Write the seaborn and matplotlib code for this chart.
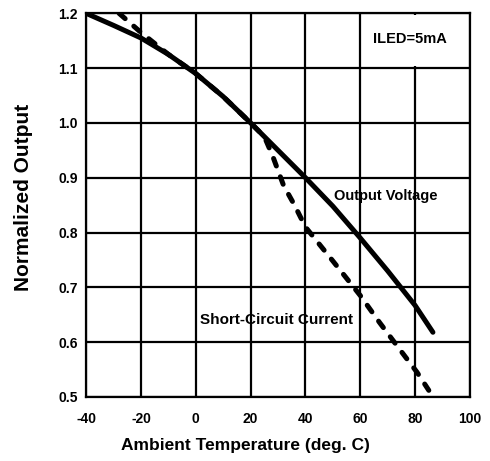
import numpy as np
import pandas as pd
import seaborn as sns
import matplotlib
matplotlib.use('Agg')
import matplotlib.pyplot as plt
from matplotlib.patches import Rectangle

# 输出电压（实线）
volt_temp = [-40, -30, -20, -10, 0, 10, 20, 30, 40, 50, 60, 70, 80, 86.5]
volt_out = [1.2, 1.178, 1.155, 1.125, 1.09, 1.048, 1.0, 0.95, 0.9, 0.848, 0.79, 0.73, 0.667, 0.618]

# 短路电流（虚线）
curr_temp = [-28, -20, -10, 0, 10, 20, 25, 28, 32, 36, 40, 50, 60, 67, 74.5, 80.7, 85]
curr_out = [1.2, 1.165, 1.125, 1.09, 1.048, 1.0, 0.975, 0.94, 0.886, 0.85, 0.81, 0.748, 0.685, 0.636, 0.586, 0.545, 0.512]

x_ticks = [-40, -20, 0, 20, 40, 60, 80, 100]
y_ticks = [0.5, 0.6, 0.7, 0.8, 0.9, 1.0, 1.1, 1.2]

sns.set_style('white')
plt.rcParams['font.family'] = ['Liberation Sans', 'DejaVu Sans']
plt.rcParams['font.weight'] = 'bold'
plt.rcParams['text.color'] = 'black'
plt.rcParams['xtick.color'] = 'black'
plt.rcParams['ytick.color'] = 'black'
plt.rcParams['axes.labelcolor'] = 'black'

df_v = pd.DataFrame({'temp': volt_temp, 'out': volt_out})
df_c = pd.DataFrame({'temp': curr_temp, 'out': curr_out})

fig, ax = plt.subplots(figsize=(4.9, 4.61), dpi=100)
fig.subplots_adjust(left=0.176, right=0.959, top=0.971, bottom=0.139)

sns.lineplot(data=df_v, x='temp', y='out', ax=ax, color='black', lw=3.6, zorder=3)
sns.lineplot(data=df_c, x='temp', y='out', ax=ax, color='black', lw=3.6, zorder=3)
dash_line = ax.lines[-1]
dash_line.set_dashes([1.6, 2.3])
dash_line.set_dash_capstyle('round')

ax.set_xlim(-40, 100)
ax.set_ylim(0.5, 1.2)
ax.set_xticks(x_ticks)
ax.set_yticks(y_ticks)
ax.set_xticklabels([str(t) for t in x_ticks], fontsize=10, fontweight='bold')
ax.set_yticklabels([f'{t:.1f}' for t in y_ticks], fontsize=10, fontweight='bold')
ax.tick_params(length=0)
ax.tick_params(axis='x', pad=11)
ax.tick_params(axis='y', pad=6)
ax.grid(True, color='black', lw=1.6)
ax.set_axisbelow(True)
for s in ax.spines.values():
    s.set_color('black')
    s.set_linewidth(1.6)

ax.set_xlabel('Ambient Temperature (deg. C)', fontsize=12.5, fontweight='bold')
ax.set_ylabel('Normalized Output', fontsize=15, fontweight='bold')
ax.xaxis.set_label_coords(0.415, -0.108)
ax.yaxis.set_label_coords(-0.138, 0.52)

# 标注框遮住右上角格线
ax.add_patch(Rectangle((66, 1.104), 26, 0.093, facecolor='white', edgecolor='none', zorder=1))
ax.text(78, 1.153, 'ILED=5mA', fontsize=10.5, fontweight='bold', ha='center', va='center', zorder=4)
ax.text(50.5, 0.867, 'Output Voltage', fontsize=10.5, fontweight='bold', ha='left', va='center', zorder=4)
ax.text(1.5, 0.64, 'Short-Circuit Current', fontsize=11, fontweight='bold', ha='left', va='center', zorder=4)

fig.savefig('out.png', dpi=100)
